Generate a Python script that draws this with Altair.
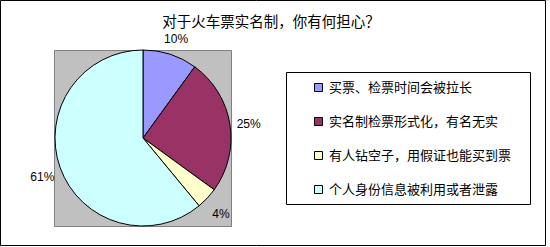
import altair as alt
import pandas as pd

title_text = "对于火车票实名制，你有何担心？"
categories = ["买票、检票时间会被拉长", "实名制检票形式化，有名无实",
              "有人钻空子，用假证也能买到票", "个人身份信息被利用或者泄露"]
values = [10, 25, 4, 61]
labels = ["10%", "25%", "4%", "61%"]
colors = ["#9999FF", "#993366", "#FFFFCC", "#CCFFFF"]

df = pd.DataFrame({"cat": categories, "value": values, "label": labels, "idx": list(range(4))})
one = pd.DataFrame({"a": [0]})

CJK = "Noto Sans CJK SC"
cx, cy, r = 143, 138, 88

frame = alt.Chart(one).mark_rect(fill="white", stroke="black", strokeWidth=1).encode(
    x=alt.value(0.5), x2=alt.value(545.5), y=alt.value(0.5), y2=alt.value(245.5))

plotbg = alt.Chart(one).mark_rect(fill="#C0C0C0", stroke="#808080", strokeWidth=1).encode(
    x=alt.value(54.5), x2=alt.value(231.5), y=alt.value(50.5), y2=alt.value(226.5))

legbox = alt.Chart(one).mark_rect(fill="white", stroke="black", strokeWidth=1).encode(
    x=alt.value(286.5), x2=alt.value(530.5), y=alt.value(72.5), y2=alt.value(204.5))

title = alt.Chart(one).mark_text(text=title_text, font=CJK, fontSize=14.5, color="black",
                                 align="center", baseline="middle").encode(
    x=alt.value(271), y=alt.value(23))

pie = alt.Chart(df).mark_arc(stroke="black", strokeWidth=1, radius=r).encode(
    theta=alt.Theta("value:Q", stack=True),
    color=alt.Color("cat:N", sort=None,
                    scale=alt.Scale(domain=categories, range=colors),
                    legend=alt.Legend(title=None, orient="none", legendX=312, legendY=81,
                                      symbolType="square", symbolSize=64,
                                      symbolStrokeColor="black", symbolStrokeWidth=1,
                                      labelFont=CJK, labelFontSize=13, labelColor="black",
                                      rowPadding=20, labelOffset=4, padding=0,
                                      labelLimit=400)),
    order=alt.Order("idx:Q"),
    x=alt.value(cx), y=alt.value(cy))

text = alt.Chart(df).mark_text(radius=107, fontSize=12, font="Liberation Sans",
                               color="black", dy=3).encode(
    theta=alt.Theta("value:Q", stack=True),
    text="label:N",
    order=alt.Order("idx:Q"),
    x=alt.value(cx), y=alt.value(cy))

chart = alt.layer(frame, plotbg, legbox, title, pie, text).properties(
    width=550, height=247, padding=0, autosize=alt.AutoSizeParams(type="none")
).configure_view(stroke=None).configure(background="white")

chart.save("out.html", embed_options={"renderer": "svg", "actions": False})
